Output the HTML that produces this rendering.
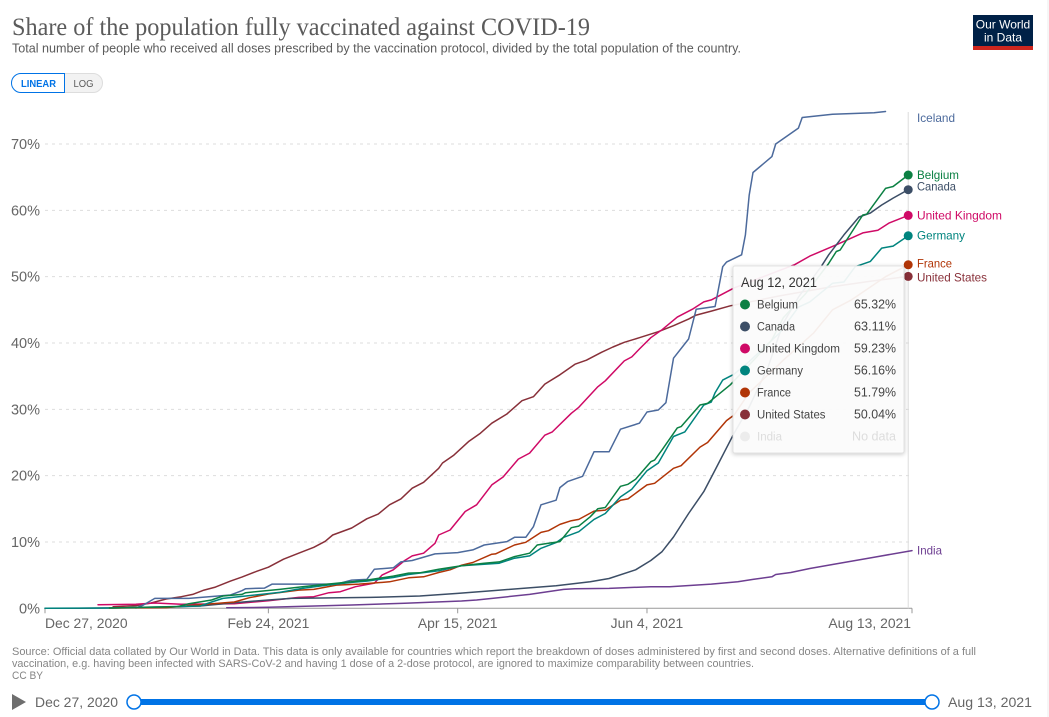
<!DOCTYPE html>
<html lang="en">
<head>
<meta charset="utf-8">
<title>Share of the population fully vaccinated against COVID-19</title>
<style>
html,body{margin:0;padding:0;background:#fff;width:1049px;height:717px;overflow:hidden}
svg{display:block;font-family:"Liberation Sans",sans-serif}
</style>
</head>
<body>
<svg id="chart" xmlns="http://www.w3.org/2000/svg" width="1049" height="717" viewBox="0 0 1049 717">
  <rect x="0" y="0" width="1049" height="717" fill="#fff"/>
  <line x1="1048" y1="0" x2="1048" y2="717" stroke="#eee"/>
  <text x="12" y="35" font-family="'Liberation Serif',serif" font-size="25" fill="#5b5b5b" textLength="578" lengthAdjust="spacingAndGlyphs">Share of the population fully vaccinated against COVID-19</text>
  <text x="12" y="52.5" font-size="12.5" fill="#5b5b5b" textLength="729" lengthAdjust="spacingAndGlyphs">Total number of people who received all doses prescribed by the vaccination protocol, divided by the total population of the country.</text>
  <g>
    <rect x="973" y="15" width="60" height="35" fill="#002147"/>
    <rect x="973" y="46" width="60" height="4" fill="#ce261e"/>
    <text x="1003" y="28.5" text-anchor="middle" font-size="12" fill="#fff">Our World</text>
    <text x="1003" y="41.5" text-anchor="middle" font-size="12" fill="#fff">in Data</text>
  </g>
  <g>
    <path d="M64.5 73.5H93a9.5 9.5 0 0 1 0 19H64.5Z" fill="#f2f2f2" stroke="#ddd"/>
    <path d="M64.5 73.5H21a9.5 9.5 0 0 0 0 19H64.5Z" fill="#fff" stroke="#0073e6" stroke-width="1"/>
    <text x="21" y="87" font-size="10" font-weight="700" fill="#0073e6" textLength="35" lengthAdjust="spacingAndGlyphs">LINEAR</text>
    <text x="73.5" y="87" font-size="10" fill="#5b5b5b" textLength="20" lengthAdjust="spacingAndGlyphs">LOG</text>
  </g>
  <g id="grid"></g>
  <g id="axes"></g>
  <line id="hoverLine" y1="112" y2="608.3" stroke="#ddd" stroke-width="1"/>
  <g id="lines"></g>
  <g id="labels"></g>
  <g id="dots"></g>
  <g>
    <rect x="733" y="266" width="171" height="187" rx="2" fill="#fff" fill-opacity="0.92" stroke="#e2e2e2" stroke-width="1" style="filter:drop-shadow(0 1px 2px rgba(0,0,0,.22))"/>
    <text x="741" y="287" font-size="13.5" fill="#333" textLength="76" lengthAdjust="spacingAndGlyphs">Aug 12, 2021</text>
    <g id="tooltipRows"></g>
  </g>
  <g>
    <text x="12" y="655" font-size="11" fill="#858585" textLength="964" lengthAdjust="spacingAndGlyphs">Source: Official data collated by Our World in Data. This data is only available for countries which report the breakdown of doses administered by first and second doses. Alternative definitions of a full</text>
    <text x="12" y="667" font-size="11" fill="#858585" textLength="742" lengthAdjust="spacingAndGlyphs">vaccination, e.g. having been infected with SARS-CoV-2 and having 1 dose of a 2-dose protocol, are ignored to maximize comparability between countries.</text>
    <text x="12" y="679" font-size="11" fill="#858585" textLength="31" lengthAdjust="spacingAndGlyphs">CC BY</text>
  </g>
  <g>
    <path d="M12 694L26 702L12 710Z" fill="#6e6e6e"/>
    <text x="35" y="707" font-size="14" fill="#666" textLength="83" lengthAdjust="spacingAndGlyphs">Dec 27, 2020</text>
    <rect x="134" y="699" width="798" height="6" fill="#0073e6"/>
    <circle cx="134" cy="702" r="7" fill="#fff" stroke="#0073e6" stroke-width="1.5"/>
    <circle cx="932" cy="702" r="7" fill="#fff" stroke="#0073e6" stroke-width="1.5"/>
    <text x="948" y="707" font-size="14" fill="#666" textLength="84" lengthAdjust="spacingAndGlyphs">Aug 13, 2021</text>
  </g>
</svg>
<script>
// Days are counted from Dec 27, 2020; values are % of population fully vaccinated.
const yTickValues = [0, 10, 20, 30, 40, 50, 60, 70];
const xTickDays = [0, 59, 109, 159, 229];
const xTickLabels = ["Dec 27, 2020", "Feb 24, 2021", "Apr 15, 2021", "Jun 4, 2021", "Aug 13, 2021"];

const indiaDays = [48,59,81,95,110,114,128,137,140,149,160,165,176,183,187,192,193,197,202,208,219,229];
const indiaValues = [0.07,0.15,0.5,0.75,1.1,1.25,2.1,2.85,2.95,3,3.25,3.25,3.65,4,4.35,4.75,5.1,5.4,6,6.6,7.7,8.7];

const usDays = [18,24,28,32,36,39,42,45,49,52,56,59,63,67,71,74,76,81,85,88,91,94,97,100,104,105,108,112,115,118,122,126,129,132,136,140,143,147,150,153,157,162,166,170,172,176,181,194,207,218,228];
const usValues = [0.24,0.4,0.8,1.4,1.75,2.1,2.75,3.2,4.1,4.7,5.6,6.2,7.4,8.3,9.2,10.1,11.05,12.1,13.5,14.2,15.6,16.5,18.1,19,21.1,21.9,23.1,25.2,26.4,27.9,29.3,31.3,31.9,33.8,35.2,36.8,37.4,38.6,39.4,40.1,40.8,41.7,42.6,43.6,44.2,44.8,45.6,47.1,48.4,49.3,50.04];

const ukDays = [14,24,29,36,50,59,67,71,75,78,82,87,89,92,95,97,100,103,104,107,111,114,118,121,125,128,132,134,139,141,146,148,153,155,157,160,163,167,171,174,176,182,198,202,209,216,220,223,228];
const ukValues = [0.55,0.6,0.8,0.6,0.7,1.15,1.65,1.75,2.35,2.5,3.25,3.8,5,5.8,7.2,7.9,8.3,9.8,11.05,11.8,14.6,15.6,18.6,19.8,22.5,23.4,26.1,26.6,29.4,30.3,33.4,34.3,37.3,37.9,39.1,40.8,42,43.9,45.1,46.2,46.5,48.3,51.8,53.1,54.8,56.6,57,58.1,59.23];

const icelandDays = [24,26,29,38,49,52,53,58,60,77,81,85,87,92,94,97,103,109,113,116,122,124,127,129,131,135,136,138,142,145,149,152,157,159,162,164,166,170,172,177,179,180,184,185,186,187,192,193,199,200,208,219,222];
const icelandValues = [0.05,0.5,1.5,1.5,2,2.65,2.95,3.05,3.65,3.65,4.25,4.35,5.9,6.1,7,7.2,8.2,8.4,8.8,9.55,10.05,10.7,10.7,12.3,15.6,16.3,18.2,19.1,19.9,23.6,23.6,27,27.9,29.6,29.9,31,37.7,40.6,45.1,45.5,51.5,52.2,53.3,56.3,62.3,65.7,68.1,70,72.4,74,74.5,74.7,74.9];

const canadaDays = [0,9,28,41,50,59,65,86,99,109,118,135,144,149,156,160,163,166,170,174,177,182,186,191,195,199,205,207,211,215,218,221,224,228];
const canadaValues = [0,0.02,0.1,0.35,0.85,1.25,1.5,1.65,1.85,2.25,2.65,3.4,4,4.5,5.8,7.2,8.55,10.75,14.3,17.6,20.85,26.4,30.35,36.4,43,46.9,51.5,53.3,56.3,59,59.6,60.8,61.85,63.11];

const franceDays = [17,32,38,50,54,59,67,71,77,83,91,96,100,104,107,110,113,118,119,124,127,131,133,136,139,141,145,148,152,154,159,161,166,168,173,175,180,182,186,195,203,208,213,222,228];
const franceValues = [0.05,0.1,0.4,0.95,1.6,2.15,2.75,2.85,3.5,3.65,4,4.6,4.75,5.4,5.8,6.5,6.9,8.15,8.2,9.55,9.95,11.45,11.7,12.65,13.2,13.4,14.65,14.8,16.3,16.5,18.6,18.85,21.1,21.5,24.3,25,28.3,29.15,32.5,37.4,41.5,45,46.5,50,51.79];

const germanyDays = [0,17,41,44,47,53,62,68,74,81,85,92,96,104,110,120,124,128,131,135,137,141,145,148,152,155,159,162,166,169,174,176,177,179,182,186,194,199,202,208,211,214,218,221,224,228];
const germanyValues = [0,0.05,0.35,0.95,1.5,1.85,2.4,3,3.45,3.9,4.1,4.65,5.1,5.65,6.4,6.8,7.55,7.9,9.05,9.9,10.7,11.55,13.4,14.3,16.8,17.95,20.75,21.9,25.9,26.6,30.65,31.1,32.5,34.4,35.3,37.2,41.5,45.4,46.2,49,49.2,51.5,52.3,54.3,54.6,56.16];

const belgiumDays = [17,35,38,44,47,52,53,62,68,74,81,85,92,96,99,104,110,116,120,124,128,130,133,136,139,141,144,146,148,152,154,156,160,161,163,167,168,173,175,181,188,192,195,201,207,209,210,216,217,222,224,228];
const belgiumValues = [0.05,0.25,0.7,1.25,1.85,2.1,2.35,2.85,3.25,3.6,4,4.25,4.85,5.3,5.35,5.9,6.4,6.8,7,7.8,8.3,9.55,9.8,10.05,12.15,12.4,13.8,15,15.2,18.4,18.7,19.45,22.1,22.35,23.9,27.2,27.4,30.65,30.9,33.7,37.9,40.5,43.8,47.5,52,53.8,54,59.3,59.4,63.3,63.6,65.32];

const hoverDay = 228;

const SVGNS = "http://www.w3.org/2000/svg";
function xScale(day){ return 45 + day * (867 / 229); }
function yScale(pct){ return 608.3 - pct * (464.3 / 70); }

function make(tag, attrs, parent){
  const el = document.createElementNS(SVGNS, tag);
  for (const k in attrs) el.setAttribute(k, attrs[k]);
  parent.appendChild(el);
  return el;
}

const seriesList = [
  {slug:"india", name:"India", color:"#6d3e91", days:indiaDays, values:indiaValues, labelWidth:25, labelShift:0, hover:false},
  {slug:"united-states", name:"United States", color:"#883039", days:usDays, values:usValues, labelWidth:70, labelShift:1, hover:true, tipWidth:68.5},
  {slug:"united-kingdom", name:"United Kingdom", color:"#cf0a66", days:ukDays, values:ukValues, labelWidth:85, labelShift:0, hover:true, tipWidth:83},
  {slug:"iceland", name:"Iceland", color:"#4c6a9c", days:icelandDays, values:icelandValues, labelWidth:38, labelShift:6.5, hover:false},
  {slug:"canada", name:"Canada", color:"#3c4e66", days:canadaDays, values:canadaValues, labelWidth:39, labelShift:-3, hover:true, tipWidth:38},
  {slug:"france", name:"France", color:"#b13507", days:franceDays, values:franceValues, labelWidth:35, labelShift:-1.5, hover:true, tipWidth:34},
  {slug:"germany", name:"Germany", color:"#00847e", days:germanyDays, values:germanyValues, labelWidth:48, labelShift:-0.5, hover:true, tipWidth:46},
  {slug:"belgium", name:"Belgium", color:"#0b8043", days:belgiumDays, values:belgiumValues, labelWidth:42, labelShift:0, hover:true, tipWidth:41}
];

const grid = document.getElementById("grid");
const axes = document.getElementById("axes");
yTickValues.forEach(function(v){
  if (v > 0) {
    const g = make("line", {x1:45, x2:912, y1:yScale(v), y2:yScale(v), stroke:"#ddd", "stroke-dasharray":"3,4"}, grid);
    
    
  }
  const t = make("text", {x:40, y:yScale(v)+5, "text-anchor":"end", "font-size":14.5, fill:"#666"}, axes);
  t.textContent = v + "%";
  
  
});

const xAxisLine = make("line", {x1:xScale(0), x2:xScale(229), y1:yScale(0), y2:yScale(0), stroke:"#999", "stroke-width":1}, axes);



xTickDays.forEach(function(d, i){
  const tick = make("line", {x1:xScale(d), x2:xScale(d), y1:yScale(0), y2:yScale(0)+5, stroke:"#999"}, axes);
  
  
  let anchor = "middle", x = xScale(d);
  if (i === 0) { anchor = "start"; }
  if (i === xTickDays.length - 1) { anchor = "end"; x = xScale(d) - 1; }
  const lab = make("text", {x:x, y:628, "text-anchor":anchor, "font-size":13.9, fill:"#666"}, axes);
  lab.textContent = xTickLabels[i];
  
  
});

document.getElementById("hoverLine").setAttribute("x1", xScale(hoverDay));
document.getElementById("hoverLine").setAttribute("x2", xScale(hoverDay));

const linesG = document.getElementById("lines");
const labelsG = document.getElementById("labels");
const dotsG = document.getElementById("dots");
seriesList.forEach(function(s){
  const pts = s.days.map(function(d, i){ return xScale(d).toFixed(1) + "," + yScale(s.values[i]).toFixed(1); });
  const line = make("polyline", {points:pts.join(" "), fill:"none", stroke:s.color, "stroke-width":1.5, "stroke-linejoin":"round", "stroke-linecap":"round"}, linesG);
  
  

  const lastIdx = s.values.length - 1;
  const lab = make("text", {x:917, y:yScale(s.values[lastIdx]) + 4 + s.labelShift, "font-size":12, fill:s.color, textLength:s.labelWidth, lengthAdjust:"spacingAndGlyphs"}, labelsG);
  lab.textContent = s.name;
  
  

  if (s.hover) {
    const dot = make("circle", {cx:xScale(hoverDay), cy:yScale(s.values[lastIdx]), r:4.5, fill:s.color}, dotsG);
    
    
  }
});

const tooltipOrder = ["belgium", "canada", "united-kingdom", "germany", "france", "united-states"];
const rowsG = document.getElementById("tooltipRows");
tooltipOrder.forEach(function(slug, i){
  const s = seriesList.filter(function(x){ return x.slug === slug; })[0];
  const cy = 304.5 + i * 22;
  const dot = make("circle", {cx:745, cy:cy, r:5, fill:s.color}, rowsG);
  
  
  const name = make("text", {x:757, y:cy+4, "font-size":11.5, fill:"#444", textLength:s.tipWidth, lengthAdjust:"spacingAndGlyphs"}, rowsG);
  name.textContent = s.name;
  
  
  const val = make("text", {x:854, y:cy+4, "font-size":12.5, fill:"#444", textLength:42, lengthAdjust:"spacingAndGlyphs"}, rowsG);
  val.textContent = s.values[s.values.length-1].toFixed(2) + "%";
  
  
});

const indiaTipDot = make("circle", {cx:745, cy:436.5, r:5, fill:"#ececec"}, rowsG);


const indiaTipName = make("text", {x:757, y:440.5, "font-size":11.5, fill:"#ddd", textLength:25, lengthAdjust:"spacingAndGlyphs"}, rowsG);
indiaTipName.textContent = "India";


const indiaTipValue = make("text", {x:852, y:440.5, "font-size":12.5, fill:"#ddd", textLength:44, lengthAdjust:"spacingAndGlyphs"}, rowsG);
indiaTipValue.textContent = "No data";


</script>
</body>
</html>
